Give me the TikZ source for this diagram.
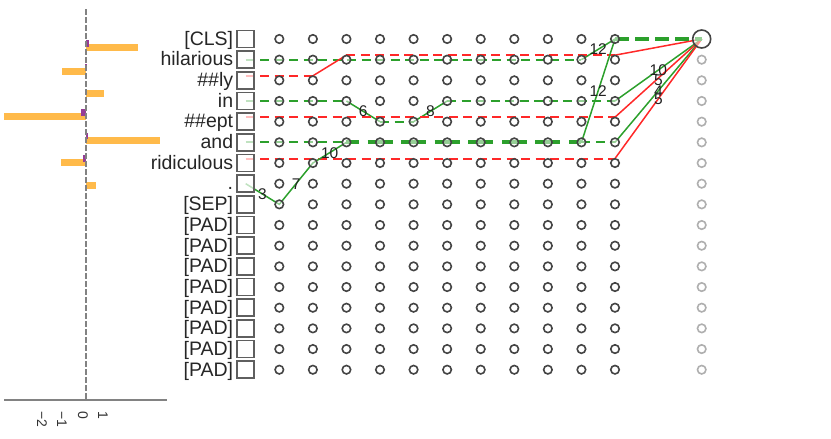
\documentclass[tikz,border=0pt]{standalone}
\usepackage{fontspec}
\setmainfont{Liberation Sans}
\usetikzlibrary{calc}
\pgfdeclarelayer{background}
\pgfsetlayers{background,main}
\definecolor{gcol}{RGB}{44,160,44}
\definecolor{rcol}{RGB}{255,40,40}
\definecolor{dotc}{RGB}{68,68,68}
\definecolor{fadec}{RGB}{175,175,175}
\definecolor{boxc}{RGB}{95,95,95}
\definecolor{barO}{RGB}{255,186,74}
\definecolor{barP}{RGB}{150,60,150}
\definecolor{axc}{RGB}{130,130,130}
\definecolor{numc}{RGB}{34,34,34}
\begin{document}
\begin{tikzpicture}[x=1pt,y=-1pt,
 dot/.style={circle,draw=dotc,line width=1.6pt,minimum size=8.5pt,inner sep=0pt,fill=white,fill opacity=0.5},
 fdot/.style={dot,draw=fadec},
 bigdot/.style={dot,minimum size=18pt},
 tokbox/.style={rectangle,draw=boxc,line width=1.7pt,minimum size=17pt,inner sep=0pt,fill=white,fill opacity=0.7},
 toklab/.style={anchor=base east,inner sep=0pt,font=\fontsize{19.5}{19.5}\selectfont,text=black!85},
 num/.style={inner sep=0pt,font=\fontsize{15.5}{15.5}\selectfont,text=numc},
 tick/.style={inner sep=0pt,anchor=west,rotate=-90,font=\fontsize{14}{14}\selectfont,text=black!80},
 gs/.style={draw=gcol,line width=1.5pt},
 gd/.style={draw=gcol,line width=2pt,dash pattern=on 9pt off 5.5pt},
 gt/.style={draw=gcol,line width=4pt,dash pattern=on 25pt off 8.57pt,dash phase=12.5pt},
 rs/.style={draw=rcol,line width=1.5pt},
 rd/.style={draw=rcol,line width=2pt,dash pattern=on 9pt off 5.5pt},
 obar/.style={fill=barO},
 pbar/.style={fill=barP},
]
\useasboundingbox (0,0) rectangle (831,439);

% ---- bar chart ----
\fill[obar] (86,44.2) rectangle (138,51.2);
\fill[obar] (62,67.5) rectangle (86,74.5);
\fill[obar] (86,89.8) rectangle (104,96.8);
\fill[obar] (4,113.2) rectangle (86,120.2);
\fill[obar] (86,136.5) rectangle (160,143.5);
\fill[obar] (61,159.2) rectangle (86,166.2);
\fill[obar] (86,182.2) rectangle (96,189.2);
\fill[pbar] (86,40) rectangle (88.5,46.5);
\fill[pbar] (85.3,63.5) rectangle (86.5,69.5);
\fill[pbar] (81,109) rectangle (86,115.5);
\fill[pbar] (86,132.5) rectangle (88.3,139);
\fill[pbar] (83,155.3) rectangle (86,161.8);
\draw[axc,line width=1.3pt,dash pattern=on 6pt off 2pt] (86,9) -- (86,400);
\draw[axc,line width=1.3pt] (4,400) -- (167,400);
\node[tick] (tk1) at (103,411) {1};
\node[tick] (tk0) at (83,411) {0};
\node[tick] (tkm1) at (62,411) {−1};
\node[tick] (tkm2) at (42,411) {−2};

% ---- grid ----
\foreach \i in {0,...,10}
  \foreach \j in {0,...,16}
    \node[dot] (n\i-\j) at ({279.3+33.57*\i},{39+20.67*\j}) {};
\node[bigdot] (f-0) at (701.7,39) {};
\foreach \j in {1,...,16}
  \node[fdot] (f-\j) at (701.7,{39+20.67*\j}) {};

% ---- tokens ----
\foreach \j/\t in {0/{[CLS]},1/hilarious,2/\#\#ly,3/in,4/\#\#ept,5/and,6/ridiculous,7/.,8/{[SEP]},9/{[PAD]},10/{[PAD]},11/{[PAD]},12/{[PAD]},13/{[PAD]},14/{[PAD]},15/{[PAD]},16/{[PAD]}}{
  \node[tokbox] (t-\j) at (245.7,{39+20.67*\j}) {};
  \node[toklab] (l-\j) at ([xshift=-3pt,yshift=-6.3pt]t-\j.west) {\t};
}

% ---- paths ----
\begin{pgfonlayer}{background}
% hilarious
\draw[gd] (t-1.center) -- (n9-1.center);
\draw[gs] (n9-1.center) -- node[num,opacity=1] (lb12a) {12} (n10-0.center);
% ##ly
\draw[rd] ([yshift=4.5pt]t-2.center) -- ([yshift=4.5pt]n1-2.center);
\draw[rs] ([yshift=4.5pt]n1-2.center) -- ([yshift=4.5pt]n2-1.center);
\draw[rd] ([yshift=4.5pt]n2-1.center) -- ([yshift=4.5pt]n10-1.center);
\draw[rs] ([yshift=4.5pt]n10-1.center) -- (f-0.center);
% in
\draw[gd] (t-3.center) -- (n2-3.center);
\draw[gs] (n2-3.center) -- (n3-4.center);
\draw[gd] (n3-4.center) -- (n4-4.center);
\draw[gs] (n4-4.center) -- (n5-3.center);
\draw[gd] (n5-3.center) -- (n10-3.center);
\draw[gs] (n10-3.center) -- (f-0.center);
% ##ept
\draw[rd] ([yshift=4.5pt]t-4.center) -- ([yshift=4.5pt]n10-4.center);
\draw[rs] ([yshift=4.5pt]n10-4.center) -- (f-0.center);
% and
\draw[gd] (t-5.center) -- (n2-5.center);
\draw[gt] (n2-5.center) -- (n9-5.center);
\draw[gd] (n9-5.center) -- (n10-5.center);
\draw[gs] (n10-5.center) -- (f-0.center);
% ridiculous
\draw[rd] ([yshift=4.5pt]t-6.center) -- ([yshift=4.5pt]n10-6.center);
\draw[rs] ([yshift=4.5pt]n10-6.center) -- (f-0.center);
% .
\draw[gs] (t-7.center) -- (n0-8.center) -- (n1-6.center) -- (n2-5.center);
\draw[gs] (n9-5.center) -- (n10-0.center);
\draw[gt,dash phase=0pt,dash pattern=on 14pt off 6pt] (n10-0.center) -- (f-0.center);
\end{pgfonlayer}

% ---- segment labels ----
\node[num] (lb3) at ($(t-7.center)!0.5!(n0-8.center)$) {3};
\node[num] (lb7) at ($(n0-8.center)!0.5!(n1-6.center)$) {7};
\node[num] (lb10a) at ($(n1-6.center)!0.5!(n2-5.center)$) {10};
\node[num] (lb6) at ($(n2-3.center)!0.5!(n3-4.center)$) {6};
\node[num] (lb8) at ($(n4-4.center)!0.5!(n5-3.center)$) {8};
\node[num] (lb12b) at ($(n9-5.center)!0.5!(n10-0.center)$) {12};
\node[num] (lb10b) at ($(n10-3.center)!0.5!(f-0.center)$) {10};
\node[num] (lb5a) at ($(n10-4.center)!0.5!(f-0.center)$) {5};
\node[num] (lb4) at ($(n10-5.center)!0.5!(f-0.center)$) {4};
\node[num] (lb5b) at ($([yshift=4.5pt]n10-6.center)!0.5!(f-0.center)$) {5};
\end{tikzpicture}
\end{document}
